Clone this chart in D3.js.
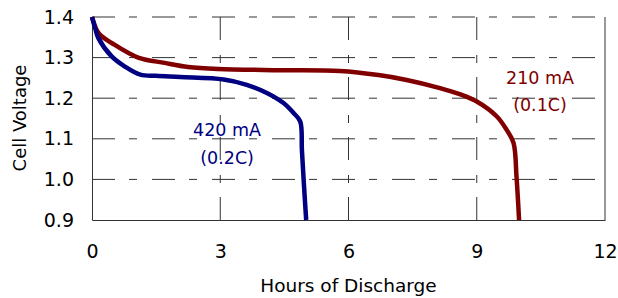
<!DOCTYPE html>
<meta charset="utf-8">
<script src="https://d3js.org/d3.v7.min.js"></script>
<style>
  body { margin: 0; background: #fff; }
  text { font-family: "DejaVu Sans", sans-serif; }
</style>
<body>
<div id="chart"></div>
<script>
  // hours of discharge vs cell voltage
  const hours210 = [0, 0.1, 0.19, 0.46, 1.08, 1.7, 2.25, 2.95, 4.4, 5.8, 6.7, 7.36, 8.14, 8.6, 9.0, 9.47, 9.7, 9.86, 9.93, 9.99];
  const volts210 = [1.4, 1.37, 1.356, 1.336, 1.30, 1.287, 1.277, 1.272, 1.269, 1.267, 1.257, 1.245, 1.225, 1.21, 1.192, 1.155, 1.122, 1.09, 1.007, 0.9];
  const hours420 = [0, 0.08, 0.15, 0.46, 0.77, 1.13, 1.5, 2.06, 3.08, 3.62, 4.09, 4.48, 4.71, 4.87, 4.91, 4.96, 5.01];
  const volts420 = [1.4, 1.37, 1.348, 1.303, 1.278, 1.258, 1.255, 1.252, 1.246, 1.233, 1.213, 1.188, 1.164, 1.143, 1.073, 0.983, 0.9];
  const xTicks = [0, 3, 6, 9, 12];
  const yTicks = [0.9, 1.0, 1.1, 1.2, 1.3, 1.4];

  const margin = {top: 17, right: 13, bottom: 78, left: 92},
      width = 618 - margin.left - margin.right,
      height = 298 - margin.top - margin.bottom;

  const svg = d3.select("#chart")
    .append("svg")
    .attr("width", 618)
    .attr("height", 298)
    .append("g")
    .attr("transform", `translate(${margin.left},${margin.top})`);

  const x = d3.scaleLinear().domain([0, 12]).range([0, width]);
  const y = d3.scaleLinear().domain([0.9, 1.4]).range([height, 0]);

  // dashed grid (long dash, short dash)
  const dash = "23,14,8,15";
  svg.append("g")
    .selectAll("line")
    .data(yTicks.filter(d => d > 0.9))
    .join("line")
      .attr("x1", 0).attr("x2", width)
      .attr("y1", d => y(d)).attr("y2", d => y(d))
      .attr("stroke", "#333")
      .attr("stroke-dasharray", dash);
  svg.append("g")
    .selectAll("line")
    .data(xTicks.filter(d => d > 0 && d < 12))
    .join("line")
      .attr("x1", d => x(d)).attr("x2", d => x(d))
      .attr("y1", height).attr("y2", 0)
      .attr("stroke", "#333")
      .attr("stroke-dasharray", dash);

  // axes without tick marks
  const xAxis = svg.append("g")
    .attr("transform", `translate(0,${height})`)
    .call(d3.axisBottom(x).tickValues(xTicks).tickSize(0).tickPadding(25).tickFormat(d3.format("d")));
  const yAxis = svg.append("g")
    .call(d3.axisLeft(y).tickValues(yTicks).tickSize(0).tickPadding(18).tickFormat(d3.format(".1f")));
  [xAxis, yAxis].forEach(a => {
    a.select(".domain").attr("stroke", "#333");
    a.selectAll("text").style("font-size", "19px").attr("fill", "#000");
  });
  // right border
  svg.append("line")
    .attr("x1", width).attr("x2", width)
    .attr("y1", 0).attr("y2", height)
    .attr("stroke", "#333");

  // axis titles
  svg.append("text")
    .attr("x", width / 2)
    .attr("y", height + 72)
    .attr("text-anchor", "middle")
    .style("font-size", "18.5px")
    .text("Hours of Discharge");
  svg.append("text")
    .attr("transform", `translate(${20 - margin.left},${118 - margin.top}) rotate(-90)`)
    .attr("text-anchor", "middle")
    .attr("dy", "0.35em")
    .style("font-size", "18px")
    .text("Cell Voltage");

  // curves
  const line = d3.line()
    .x(d => x(d[0]))
    .y(d => y(d[1]))
    .curve(d3.curveCatmullRom);

  svg.append("path")
    .datum(d3.zip(hours210, volts210))
    .attr("d", line)
    .attr("fill", "none")
    .attr("stroke", "#800000")
    .attr("stroke-width", 4.5);

  svg.append("path")
    .datum(d3.zip(hours420, volts420))
    .attr("d", line)
    .attr("fill", "none")
    .attr("stroke", "#000080")
    .attr("stroke-width", 4.5);

  // series labels
  const labels = [
    {lines: ["420 mA", "(0.2C)"], h: 3.16, v: 1.108, gap: 28, color: "#000080"},
    {lines: ["210 mA", "(0.1C)"], h: 10.48, v: 1.236, gap: 27, color: "#800000"}
  ];
  labels.forEach(l => {
    l.lines.forEach((t, i) => {
      svg.append("text")
        .attr("x", x(l.h))
        .attr("y", y(l.v) + i * l.gap)
        .attr("text-anchor", "middle")
        .style("font-size", "17.5px")
        .attr("fill", l.color)
        .text(t);
    });
  });
</script>
</body>
